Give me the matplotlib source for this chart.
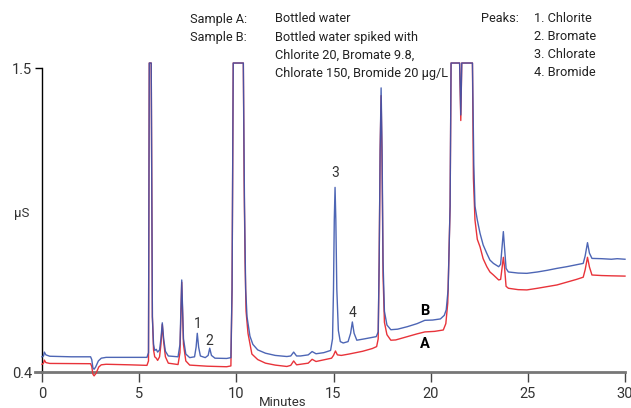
import matplotlib
matplotlib.use("Agg")
import matplotlib.pyplot as plt
from matplotlib.lines import Line2D

plt.rcParams['font.family'] = ['Roboto', 'DejaVu Sans']

# Sample B (spiked) trace: minutes / µS
time_b = [0.0, 0.08, 0.12, 0.2, 0.4, 1.5, 2.5, 2.56, 2.62, 2.68, 2.76, 2.9, 3.05, 3.3, 4.5,
          5.4, 5.48, 5.52, 5.62, 5.68, 5.74, 5.8, 5.88, 5.95, 6.05, 6.12, 6.19, 6.26, 6.35, 6.5,
          7.0, 7.1, 7.19, 7.28, 7.4, 7.6, 7.85, 7.93, 7.99, 8.06, 8.15, 8.4, 8.55, 8.63, 8.72,
          8.9, 9.5, 9.72, 9.78, 9.84, 10.36, 10.42, 10.48, 10.55, 10.7, 10.85, 11.1, 11.5, 12.0,
          12.6, 12.8, 12.95, 13.1, 13.3, 13.7, 13.9, 14.1, 14.5, 14.85, 14.95, 15.0, 15.04, 15.08,
          15.12, 15.17, 15.25, 15.35, 15.5, 15.75, 15.88, 15.97, 16.06, 16.2, 16.6, 17.2, 17.3,
          17.35, 17.4, 17.45, 17.5, 17.55, 17.62, 17.75, 17.95, 18.3, 18.8, 19.3, 19.7, 20.1,
          20.5, 20.7, 20.8, 20.9, 21.0, 21.05, 21.49, 21.55, 21.6, 22.15, 22.22, 22.28, 22.4,
          22.54, 22.7, 22.89, 23.05, 23.23, 23.5, 23.6, 23.68, 23.74, 23.8, 23.88, 24.0, 24.5,
          24.95, 25.5, 26.0, 26.5, 27.0, 27.5, 27.85, 27.95, 28.07, 28.17, 28.3, 28.8, 29.3,
          29.6, 30.0]
signal_b = [0.455, 0.458, 0.472, 0.462, 0.457, 0.455, 0.455, 0.445, 0.415, 0.410, 0.418, 0.440,
            0.450, 0.453, 0.453, 0.453, 0.47, 1.518, 1.518, 0.6, 0.50, 0.478, 0.482, 0.472, 0.48,
            0.52, 0.578, 0.52, 0.475, 0.458, 0.455, 0.50, 0.733, 0.52, 0.465, 0.452, 0.455, 0.49,
            0.540, 0.49, 0.458, 0.452, 0.46, 0.486, 0.46, 0.450, 0.449, 0.452, 0.7, 1.518, 1.518,
            1.0, 0.70, 0.60, 0.53, 0.50, 0.48, 0.468, 0.46, 0.456, 0.458, 0.472, 0.458, 0.458,
            0.462, 0.474, 0.466, 0.47, 0.478, 0.52, 0.7, 0.95, 1.068, 0.95, 0.70, 0.55, 0.51,
            0.505, 0.51, 0.54, 0.581, 0.54, 0.515, 0.52, 0.528, 0.545, 0.8, 1.2, 1.428, 1.2, 0.8,
            0.62, 0.57, 0.553, 0.555, 0.564, 0.575, 0.587, 0.588, 0.592, 0.605, 0.625, 0.70, 1.0,
            1.518, 1.518, 1.33, 1.518, 1.518, 1.15, 1.0, 0.95, 0.902, 0.86, 0.829, 0.805, 0.793,
            0.781, 0.79, 0.86, 0.908, 0.85, 0.775, 0.762, 0.758, 0.757, 0.762, 0.768, 0.775,
            0.781, 0.788, 0.793, 0.82, 0.868, 0.83, 0.811, 0.810, 0.808, 0.81, 0.808]

# Sample A (bottled water) trace
time_a = [0.0, 0.08, 0.12, 0.2, 0.4, 2.5, 2.56, 2.62, 2.68, 2.78, 2.92, 3.05, 3.3, 4.5, 5.4,
          5.48, 5.52, 5.62, 5.68, 5.74, 5.8, 5.88, 5.95, 6.05, 6.12, 6.19, 6.26, 6.35, 6.5, 7.0,
          7.1, 7.19, 7.28, 7.4, 7.6, 8.5, 9.5, 9.72, 9.78, 9.84, 10.36, 10.4, 10.45, 10.5, 10.6,
          10.8, 11.1, 11.5, 12.0, 12.6, 12.8, 12.95, 13.1, 13.3, 13.7, 13.9, 14.1, 14.5, 14.9,
          15.0, 15.1, 15.2, 15.4, 15.8, 16.5, 17.0, 17.22, 17.3, 17.35, 17.4, 17.45, 17.5, 17.55,
          17.62, 17.75, 17.95, 18.2, 18.8, 19.3, 19.7, 20.2, 20.65, 20.78, 20.88, 21.0, 21.05,
          21.49, 21.55, 21.6, 22.15, 22.2, 22.28, 22.4, 22.54, 22.7, 22.89, 23.05, 23.23, 23.5,
          23.6, 23.68, 23.74, 23.8, 23.88, 24.0, 24.5, 24.95, 25.5, 26.0, 26.5, 27.0, 27.5,
          27.85, 27.95, 28.07, 28.17, 28.3, 28.8, 29.3, 30.0]
signal_a = [0.428, 0.432, 0.443, 0.434, 0.431, 0.43, 0.42, 0.392, 0.386, 0.395, 0.418, 0.426,
            0.428, 0.426, 0.424, 0.44, 1.518, 1.518, 0.6, 0.48, 0.455, 0.45, 0.442, 0.455, 0.50,
            0.572, 0.51, 0.455, 0.432, 0.427, 0.47, 0.725, 0.50, 0.44, 0.425, 0.421, 0.419,
            0.422, 0.7, 1.518, 1.518, 1.1, 0.80, 0.62, 0.54, 0.465, 0.445, 0.432, 0.425, 0.42,
            0.424, 0.44, 0.426, 0.428, 0.432, 0.446, 0.438, 0.444, 0.450, 0.46, 0.476, 0.462,
            0.46, 0.465, 0.475, 0.485, 0.492, 0.52, 0.8, 1.2, 1.40, 1.15, 0.75, 0.58, 0.535,
            0.515, 0.516, 0.528, 0.538, 0.545, 0.547, 0.552, 0.575, 0.65, 1.0, 1.518, 1.518,
            1.31, 1.518, 1.518, 1.1, 0.95, 0.88, 0.853, 0.81, 0.781, 0.762, 0.751, 0.733, 0.735,
            0.78, 0.815, 0.78, 0.71, 0.703, 0.698, 0.697, 0.703, 0.709, 0.715, 0.725, 0.735,
            0.743, 0.77, 0.815, 0.78, 0.751, 0.749, 0.748, 0.747]

x_ticks = [0, 5, 10, 15, 20, 25, 30]
y_ticks = [0.4, 1.5]
y_tick_labels = ["0.4", "1.5"]

sample_labels = ["Sample A:", "Sample B:"]
sample_desc = ["Bottled water", "Bottled water spiked with",
               "Chlorite 20, Bromate 9.8,", "Chlorate 150, Bromide 20 µg/L"]
peak_names = ["1. Chlorite", "2. Bromate", "3. Chlorate", "4. Bromide"]
peak_marks = [("1", 7.99, 0.575), ("2", 8.63, 0.512), ("3", 15.08, 1.12), ("4", 15.97, 0.615)]
trace_marks = [("B", 19.7, 0.622), ("A", 19.7, 0.501)]

W, H = 631, 408
fig = plt.figure(figsize=(W / 100, H / 100), dpi=100)
ax = fig.add_axes([42 / W, (H - 372) / H, (625 - 42) / W, (372 - 68) / H])

red = "#e8333a"
blue = "#3a55ad"
ax.plot(time_a, signal_a, color=red, lw=1.0, clip_on=False, zorder=3)
ax.plot(time_b, signal_b, color=blue, lw=1.0, clip_on=False, zorder=4, alpha=0.9)

ax.set_xlim(0, 30)
ax.set_ylim(0.4, 1.5)
for s in ["top", "right"]:
    ax.spines[s].set_visible(False)
ax.spines["left"].set_color("black")
ax.spines["left"].set_linewidth(1.0)
ax.spines["bottom"].set_color("#777777")
ax.spines["bottom"].set_linewidth(2.0)
ax.add_line(Line2D([-0.38, 0], [0.4, 0.4], color="#777777", lw=2.0, clip_on=False))

ax.set_xticks(x_ticks)
ax.set_xticklabels([str(v) for v in x_ticks])
ax.set_yticks(y_ticks)
ax.set_yticklabels(y_tick_labels)
ax.tick_params(axis="x", direction="out", length=7, width=1.0, color="#444444",
               labelsize=10.5, labelcolor="#333333", pad=4)
ax.tick_params(axis="y", direction="out", length=5, width=1.0, color="black",
               labelsize=10.5, labelcolor="#333333", pad=2)

fig.text(283 / W, 1 - 403 / H, "Minutes", ha="center", va="center", fontsize=9.5, color="#333333")
fig.text(22 / W, 1 - 213 / H, "µS", ha="center", va="center", fontsize=9.5, color="#333333")

fs = 9.2
tc = "#222222"
for i, t in enumerate(sample_labels):
    fig.text(190 / W, 1 - (19 + 18 * i) / H, t, ha="left", va="center", fontsize=fs, color=tc)
for i, t in enumerate(sample_desc):
    fig.text(275 / W, 1 - (19 + 18 * i) / H, t, ha="left", va="center", fontsize=fs, color=tc)
fig.text(481 / W, 1 - 19 / H, "Peaks:", ha="left", va="center", fontsize=fs, color=tc)
for i, t in enumerate(peak_names):
    fig.text(534 / W, 1 - (19 + 18 * i) / H, t, ha="left", va="center", fontsize=fs, color=tc)

for lab, x, y in peak_marks:
    ax.text(x, y, lab, ha="center", va="center", fontsize=10, color="#333333")
for lab, x, y in trace_marks:
    ax.text(x, y, lab, ha="center", va="center", fontsize=10.5, fontweight="bold", color="black")

fig.savefig("out.png", dpi=100)
